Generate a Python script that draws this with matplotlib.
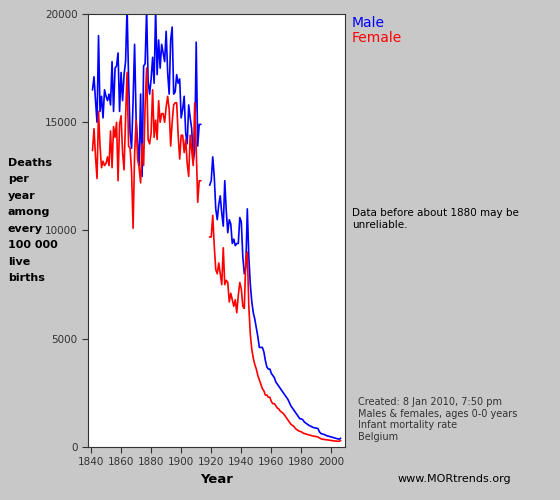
import matplotlib.pyplot as plt
import numpy as np

years_a = list(range(1841, 1914))
male_a = [16500, 17100, 16000, 15000, 19000, 15500, 16200, 15200, 16500, 16200,
          16000, 16300, 15800, 17800, 15500, 17500, 17600, 18200, 15500, 17300,
          16000, 17200, 17800, 20300, 17000, 14500, 13800, 16000, 18600, 15200,
          14000, 13000, 16300, 12500, 17600, 17700, 20200, 16900, 16300, 17000,
          18000, 16800, 20200, 17200, 18800, 17500, 18600, 18200, 17800, 19200,
          17300, 16300, 18800, 19400, 16300, 16400, 17200, 16800, 17000, 15200,
          15600, 16200, 14500, 14000, 15800, 15200, 14700, 13200, 13700, 18700,
          13900, 14900, 14900]
female_a = [13700, 14700, 13400, 12400, 15500, 13900, 12900, 13200, 13000, 13100,
            13400, 13000, 14600, 12900, 14800, 14300, 15000, 12300, 14900, 15300,
            13600, 12800, 15200, 17300, 13900, 13800, 12700, 10100, 13500, 15100,
            13300, 12900, 12200, 14000, 13000, 15800, 17500, 14200, 14000, 14500,
            16500, 14300, 15100, 14200, 16000, 15000, 15400, 15400, 15000, 15700,
            16200, 15600, 13900, 15000, 15800, 15900, 15900, 14400, 13300, 14400,
            14400, 13600, 14200, 13100, 12500, 14400, 13700, 13000, 15900, 13800,
            11300, 12300, 12300]

years_b = list(range(1919, 2007))
male_b = [12100, 12300, 13400, 12500, 11000, 10500, 11200, 11600, 10800, 10200,
          12300, 10900, 9900, 10500, 10300, 9400, 9600, 9300, 9400, 9400,
          10600, 10400, 8800, 8000, 8300, 11000, 8800, 7500, 6700, 6200,
          5900, 5500, 5100, 4600, 4600, 4600, 4400, 4000, 3700, 3600,
          3600, 3400, 3300, 3200, 3000, 2900, 2800, 2700, 2600, 2500,
          2400, 2300, 2200, 2050, 1900, 1800, 1700, 1600, 1500, 1400,
          1300, 1300, 1250, 1150, 1100, 1050, 1000, 970, 930, 900,
          880, 870, 850, 700, 620, 600, 580, 550, 520, 500,
          480, 460, 440, 420, 400, 380, 360, 400]
female_b = [9700, 9700, 10700, 9300, 8200, 8000, 8500, 8000, 7500, 9200,
            7500, 7700, 7600, 6700, 7100, 6800, 6500, 6800, 6200, 7000,
            7600, 7300, 6500, 6400, 8700, 9000, 6500, 5200, 4500, 4100,
            3800, 3600, 3300, 3100, 2900, 2700, 2600, 2400, 2400, 2300,
            2300, 2100, 2000, 2000, 1900, 1800, 1750, 1650, 1600, 1550,
            1450, 1350, 1250, 1150, 1050, 1000, 950, 850, 800, 750,
            720, 700, 650, 620, 600, 580, 560, 540, 520, 500,
            490, 480, 460, 420, 380, 360, 350, 340, 330, 320,
            310, 300, 290, 280, 270, 270, 260, 300]

gap = [np.nan]
years = years_a + [1916] + years_b
male = male_a + gap + male_b
female = female_a + gap + female_b

bg = '#c8c8c8'
fig = plt.figure(figsize=(5.6, 5.0), dpi=100, facecolor=bg)
ax = fig.add_axes([88 / 560, 53 / 500, 257 / 560, 433 / 500])
ax.plot(years, male, color='blue', lw=1.2)
ax.plot(years, female, color='red', lw=1.2)
ax.set_xlim(1838, 2009)
ax.set_ylim(0, 20000)
ax.set_xticks(range(1840, 2001, 20))
ax.set_yticks(range(0, 20001, 5000))
ax.tick_params(labelsize=7.5, colors='#333333', length=4)
for s in ax.spines.values():
    s.set_color('#333333')
ax.set_xlabel('Year', fontsize=9.5, fontweight='bold', labelpad=4)

fig.text(8 / 560, 1 - 158 / 500, 'Deaths\n\nper\n\nyear\n\namong\n\nevery\n\n100 000\n\nlive\n\nbirths',
         fontsize=8, fontweight='bold', va='top', linespacing=0.78)
fig.text(352 / 560, 1 - 23 / 500, 'Male', color='blue', fontsize=10, va='center')
fig.text(352 / 560, 1 - 38 / 500, 'Female', color='red', fontsize=10, va='center')
fig.text(352 / 560, 1 - 208 / 500, 'Data before about 1880 may be\nunreliable.',
         fontsize=7.5, va='top')
fig.text(358 / 560, 1 - 397 / 500,
         'Created: 8 Jan 2010, 7:50 pm\nMales & females, ages 0-0 years\nInfant mortality rate\nBelgium',
         fontsize=7, va='top', color='#333333')
fig.text(398 / 560, 1 - 479 / 500, 'www.MORtrends.org', fontsize=8, va='center')

fig.savefig('out.png', dpi=100, facecolor=bg)
